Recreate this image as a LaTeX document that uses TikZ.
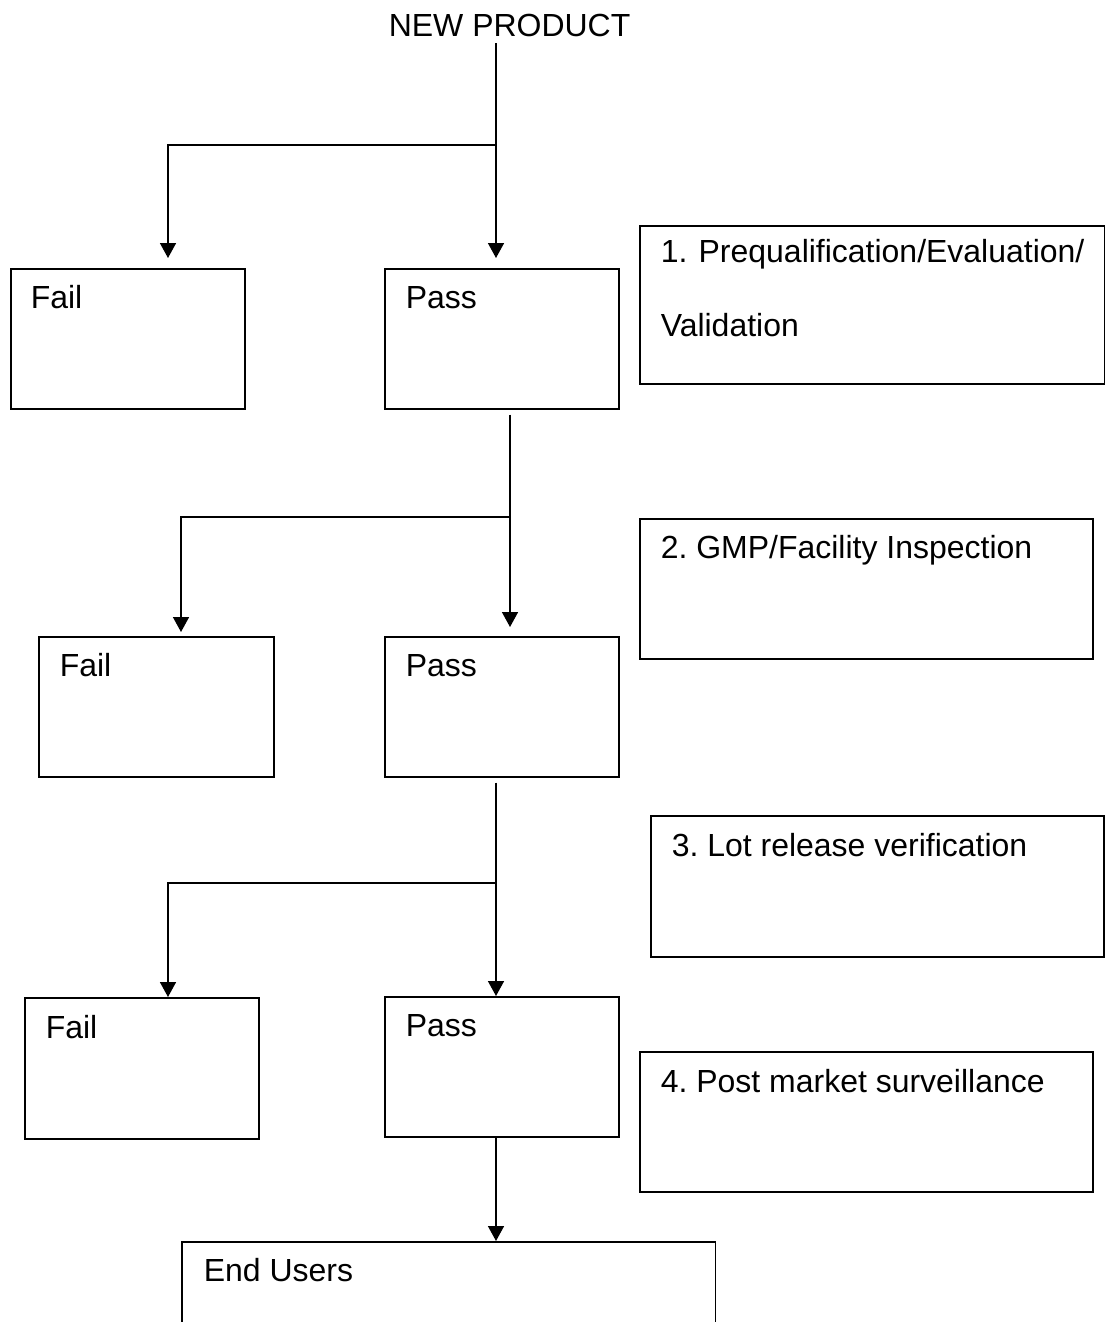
\documentclass[tikz,border=0pt]{standalone}
\usepackage{fontspec}
\setmainfont{Liberation Sans}
\usetikzlibrary{arrows.meta}
\frenchspacing
\begin{document}
\begin{tikzpicture}[x=0.02cm, y=-0.02cm,
  line width=0.9pt,
  box/.style={draw, rectangle, anchor=north west, inner sep=0pt,
              minimum width=4.68cm, minimum height=2.8cm},
  txt/.style={anchor=base west, inner sep=0pt, font=\fontsize{18.2}{22}\selectfont},
  arr/.style={-{Triangle[length=0.3cm, width=0.32cm]}}]
\useasboundingbox (0,0) rectangle (1105,1322);
\clip (0,0) rectangle (1105,1322);

% title
\node[txt] (np) at (388,36) {NEW PRODUCT};

% decision boxes
\node[box] (fail1) at (10,268) {};
\node[box] (pass1) at (384,268) {};
\node[box, minimum width=4.7cm] (fail2) at (38,636) {};
\node[box] (pass2) at (384,636) {};
\node[box, minimum height=2.82cm] (fail3) at (24,997) {};
\node[box] (pass3) at (384,996) {};

% stage boxes
\node[box, minimum width=9.3cm, minimum height=3.16cm] (step1) at (639,225) {};
\node[box, minimum width=9.06cm] (step2) at (639,518) {};
\node[box, minimum width=9.06cm, minimum height=2.82cm] (step3) at (650,815) {};
\node[box, minimum width=9.06cm] (step4) at (639,1051) {};
\node[box, minimum width=10.68cm, minimum height=2.4cm] (endu) at (181,1241) {};

% box texts
\node[txt] (fail1t) at (30,308) {Fail};
\node[txt] (pass1t) at (405,308) {Pass};
\node[txt] (fail2t) at (59,676.5) {Fail};
\node[txt] (pass2t) at (405,676.5) {Pass};
\node[txt] (fail3t) at (45,1038.5) {Fail};
\node[txt] (pass3t) at (405,1036.5) {Pass};
\node[txt] (step1a) at (660,262.5) {1.\hspace{0.35em}Prequalification/Evaluation/};
\node[txt] (step1b) at (660,336.5) {Validation};
\node[txt] (step2t) at (660,558.5) {2. GMP/Facility Inspection};
\node[txt] (step3t) at (671,856.5) {3. Lot release verification};
\node[txt] (step4t) at (660,1092.5) {4. Post market surveillance};
\node[txt] (endut) at (203,1281.5) {End Users};

% branch points
\coordinate (j1) at (496,145);
\coordinate (c1) at (168,145);
\coordinate (j2) at (510,517);
\coordinate (c2) at (181,517);
\coordinate (j3) at (496,883);
\coordinate (c3) at (168,883);
\coordinate (j4) at (496,1136);

% connectors
\draw[shorten <=0.12cm] (j1 |- np.south) -- (j1);
\draw[arr, shorten >=0.2cm] (j1) -- (c1) -- (c1 |- fail1.north);
\draw[arr, shorten >=0.2cm] (j1) -- (j1 |- pass1.north);

\draw[shorten <=0.1cm] (j2 |- pass1.south) -- (j2);
\draw[arr, shorten >=0.08cm] (j2) -- (c2) -- (c2 |- fail2.north);
\draw[arr, shorten >=0.18cm] (j2) -- (j2 |- pass2.north);

\draw[shorten <=0.1cm] (j3 |- pass2.south) -- (j3);
\draw[arr] (j3) -- (c3) -- (c3 |- fail3.north);
\draw[arr] (j3) -- (j3 |- pass3.north);

\draw[arr] (j4 |- pass3.south) -- (j4 |- endu.north);
\end{tikzpicture}
\end{document}
